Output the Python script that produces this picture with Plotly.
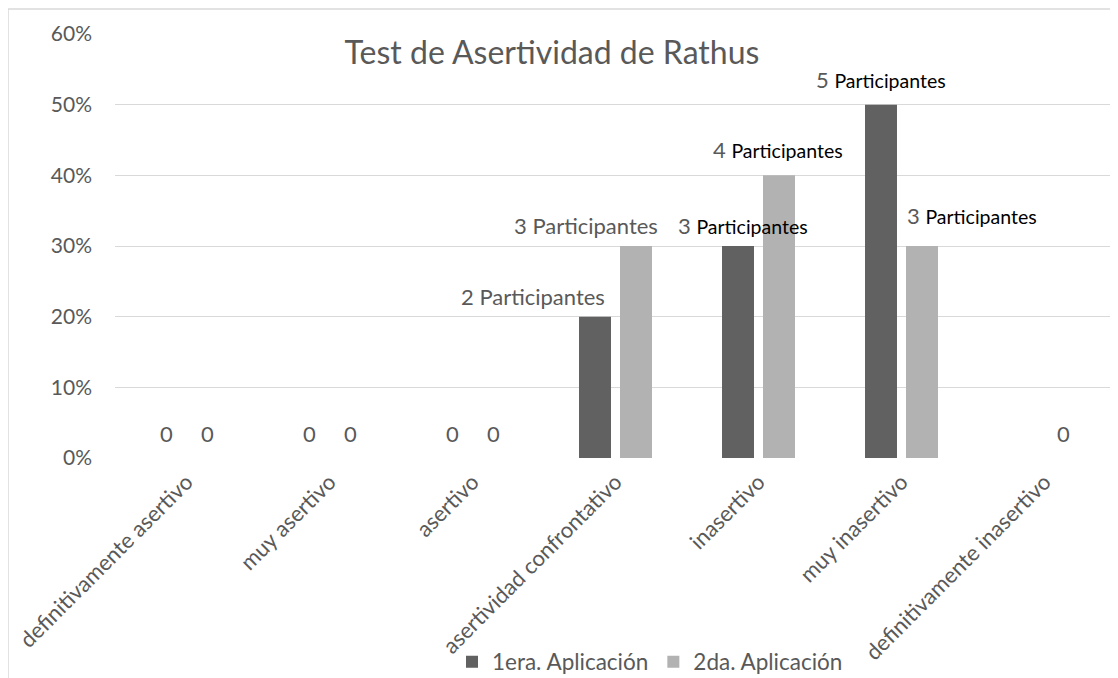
import plotly.graph_objects as go

# ---------------- data ----------------
categories = [
    "definitivamente asertivo",
    "muy asertivo",
    "asertivo",
    "asertividad confrontativo",
    "inasertivo",
    "muy inasertivo",
    "definitivamente inasertivo",
]
series_names = ["1era. Aplicación", "2da. Aplicación"]
pct_1 = [0, 0, 0, 0.20, 0.30, 0.50, 0]
pct_2 = [0, 0, 0, 0.30, 0.40, 0.30, 0]
participants_1 = [0, 0, 0, 2, 3, 5, None]   # None = no label shown
participants_2 = [0, 0, 0, 3, 4, 3, 0]
y_tick_vals = [0, 0.1, 0.2, 0.3, 0.4, 0.5, 0.6]
y_tick_text = ["0%", "10%", "20%", "30%", "40%", "50%", "60%"]
title_text = "Test de Asertividad de Rathus"

# ---------------- styles ----------------
FONT = "Lato"
GRAY_TXT = "#595959"
DARK = "#616161"
LIGHT = "#b2b2b2"
GRID = "#d9d9d9"
OFF = 8                      # page body margin of the html page
W, H = 1118 - OFF, 678 - OFF
ML, MR, MT, MB = 115 - OFF, 2, 34 - OFF, 220

# label style per point: "u" = uniform grey, "m" = mixed (grey number, black word)
style_1 = ["u", "u", "u", "u", "m", "m", "u"]
style_2 = ["u", "u", "u", "u", "m", "m", "u"]
# label nudges in pixels (x relative to category centre, y above bar top)
nudge_x_1 = [-20.5, -20.5, -20.5, -82.5, -16, -21, 0]
nudge_y_1 = [25, 25, 25, 20, 21, 25, 25]
nudge_x_2 = [20.5, 20.5, 20.5, -29.5, 19.5, 70.5, 18.5]
nudge_y_2 = [25, 25, 25, 21, 26, 31, 25]

fig = go.Figure()
fig.add_trace(go.Bar(x=categories, y=pct_1, name=series_names[0],
                     marker=dict(color=DARK, line=dict(width=0))))
fig.add_trace(go.Bar(x=categories, y=pct_2, name=series_names[1],
                     marker=dict(color=LIGHT, line=dict(width=0))))


def label_text(n, style):
    if n == 0:
        return "0"
    if style == "m":
        return (f"<span style='color:{GRAY_TXT}'>{n}</span> "
                f"<span style='font-size:19.5px;color:#000000'>Participantes</span>")
    return f"{n} Participantes"


annotations = []
for vals, parts, sty, nx, ny in [
    (pct_1, participants_1, style_1, nudge_x_1, nudge_y_1),
    (pct_2, participants_2, style_2, nudge_x_2, nudge_y_2),
]:
    for i, cat in enumerate(categories):
        if parts[i] is None:
            continue
        annotations.append(dict(
            x=cat, y=vals[i], xref="x", yref="y",
            text=label_text(parts[i], sty[i]),
            showarrow=False, xanchor="center", yanchor="middle",
            xshift=nx[i], yshift=ny[i],
            font=dict(family=FONT, size=22, color=GRAY_TXT),
        ))

plot_w = W - ML - MR
plot_h = H - MT - MB
plot_left_page = ML + OFF
plot_bottom_page = H - MB + OFF

fig.update_layout(
    width=W, height=H,
    margin=dict(l=ML, r=MR, t=MT, b=MB, pad=0, autoexpand=False),
    paper_bgcolor="white", plot_bgcolor="white",
    font=dict(family=FONT, color=GRAY_TXT, size=21),
    barmode="group", bargap=0.4266, bargroupgap=0.22,
    title=dict(text=title_text, font=dict(family=FONT, size=32, color=GRAY_TXT),
               x=(552 - plot_left_page) / plot_w, xref="paper", xanchor="center",
               y=1 - (53 - OFF) / H, yref="container", yanchor="middle"),
    xaxis=dict(type="category", tickangle=-45, showgrid=False, showline=False,
               zeroline=False, ticks="", automargin=False,
               tickfont=dict(family=FONT, size=22, color=GRAY_TXT),
               ticklabelstandoff=6),
    yaxis=dict(range=[0, 0.6], tickvals=y_tick_vals, ticktext=y_tick_text,
               showgrid=True, gridcolor=GRID, gridwidth=1.3, zeroline=False,
               showline=False, ticks="", ticklabelstandoff=22, automargin=False,
               tickfont=dict(family=FONT, size=21, color=GRAY_TXT)),
    legend=dict(orientation="h", x=(452 - plot_left_page) / plot_w, xanchor="left",
                y=(plot_bottom_page - 662) / plot_h, yanchor="middle",
                font=dict(family=FONT, size=22.5, color=GRAY_TXT),
                bgcolor="rgba(0,0,0,0)", itemwidth=30, tracegroupgap=0),
    annotations=annotations,
    shapes=[dict(type="rect", xref="paper", yref="paper",
                 x0=(8 - plot_left_page) / plot_w, x1=(1140 - plot_left_page) / plot_w,
                 y0=(plot_bottom_page - 700) / plot_h, y1=(plot_bottom_page - 9) / plot_h,
                 line=dict(color=GRID, width=1.5), fillcolor="rgba(0,0,0,0)",
                 layer="below")],
    showlegend=True,
)

fig.write_html("out.html")
